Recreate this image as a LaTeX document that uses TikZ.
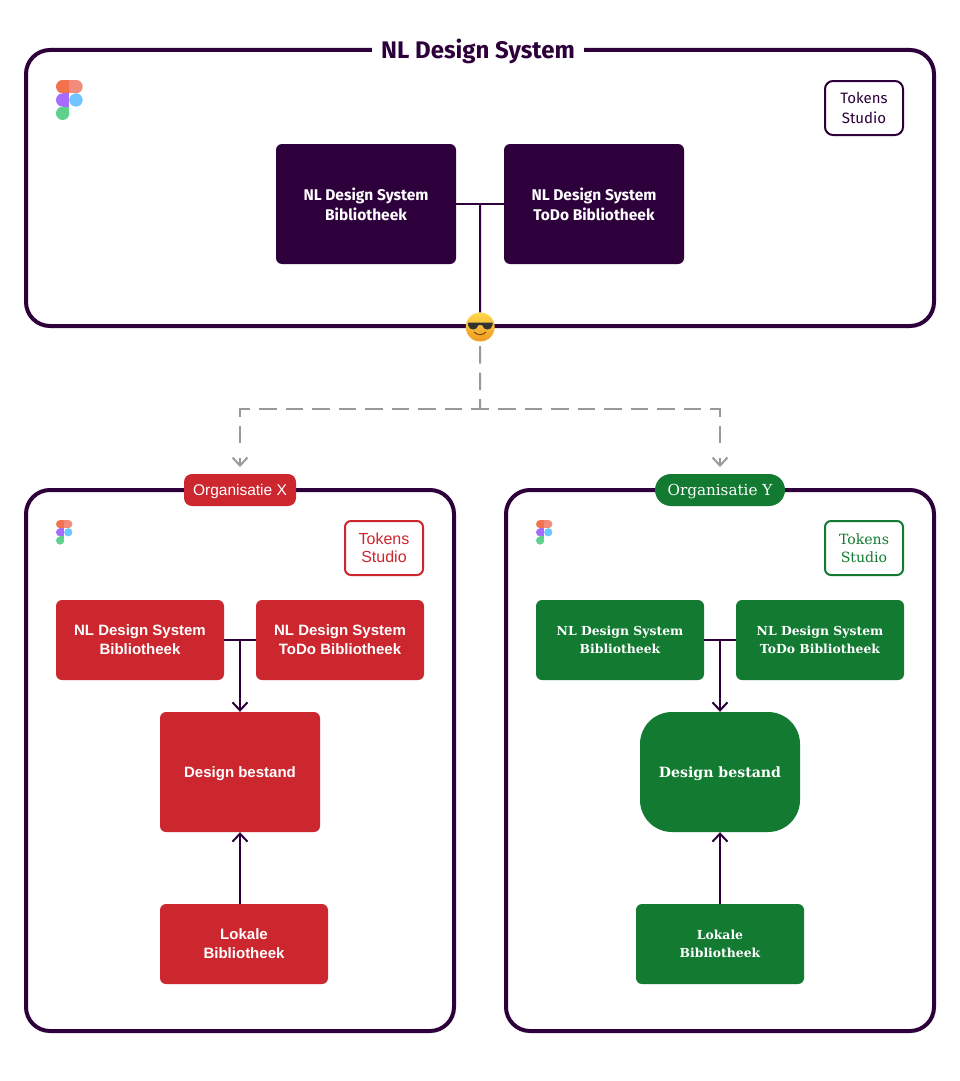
\documentclass[tikz,border=0pt]{standalone}
\usepackage{fontspec}
\usetikzlibrary{arrows.meta}

\newfontfamily\firafont{Fira Sans}
\newfontfamily\redfont{Liberation Sans}
\newfontfamily\greenfont{DejaVu Serif}

\definecolor{nlpurple}{HTML}{2D003B}
\definecolor{orgred}{HTML}{CC262E}
\definecolor{orggreen}{HTML}{137A32}
\definecolor{dashgrey}{HTML}{999999}
\definecolor{figmaorange}{HTML}{F2724D}
\definecolor{figmasalmon}{HTML}{F28B7B}
\definecolor{figmapurple}{HTML}{A66BFF}
\definecolor{figmablue}{HTML}{6FC5FF}
\definecolor{figmagreen}{HTML}{5FD18F}
\definecolor{emojitop}{HTML}{FFD84D}
\definecolor{emojibottom}{HTML}{F09A20}

\tikzset{
    drop/.style={execute at begin node={\rule{0pt}{#1}}},
    framebox/.style={draw=nlpurple, line width=4pt, rounded corners=24pt, fill=white},
    libbox/.style={rectangle, align=center, text=white, rounded corners=#1, inner sep=0pt},
    nlbox/.style={libbox=6pt, fill=nlpurple, minimum width=180pt, minimum height=120pt, drop=13pt,
        font=\firafont\bfseries\fontsize{15.5}{20}\selectfont},
    redbox/.style={libbox=6pt, fill=orgred, drop=15pt, font=\redfont\bfseries\fontsize{15}{19}\selectfont},
    greenbox/.style={libbox=6pt, fill=orggreen, drop=12pt, font=\greenfont\bfseries\fontsize{12.4}{18}\selectfont},
    pluginbox/.style={draw=#1, text=#1, fill=white, line width=2pt, rectangle, rounded corners=6pt,
        minimum width=78pt, minimum height=54pt, inner sep=0pt, align=center},
    link/.style={draw=nlpurple, line width=2pt},
    linkarrow/.style={link, -{Straight Barb[length=8pt,width=15pt,line width=2pt]}},
    sharelink/.style={draw=dashgrey, line width=2pt, dash pattern=on 17.5pt off 9pt, dash phase=#1},
    sharearrow/.style={draw=dashgrey, line width=2pt, -{Straight Barb[length=8pt,width=15pt,line width=2pt]}},
    figma/.pic={
        \fill[figmaorange] (0.5,0.5) circle (0.5);
        \fill[figmaorange] (0.5,0) rectangle (1,1);
        \fill[figmasalmon] (1.5,0.5) circle (0.5);
        \fill[figmasalmon] (1,0) rectangle (1.5,1);
        \fill[figmapurple] (0.5,1.5) circle (0.5);
        \fill[figmapurple] (0.5,1) rectangle (1,2);
        \fill[figmablue] (1.5,1.5) circle (0.5);
        \fill[figmagreen] (0.5,2.5) circle (0.5);
        \fill[figmagreen] (0.5,2) rectangle (1,2.5);
    }
}

\begin{document}
\begin{tikzpicture}[x=1pt, y=-1pt]
    \useasboundingbox (0,0) rectangle (960,1081);

    % outer frames
    \draw[framebox] (26,50) rectangle (934,326);
    \draw[framebox] (26,490) rectangle (454,1031);
    \draw[framebox] (506,490) rectangle (934,1031);

    % NL Design System
    \node[fill=white, text=nlpurple, inner xsep=9pt, inner ysep=1pt, font=\firafont\bfseries\fontsize{24}{28}\selectfont]
        (title) at (478,51) {NL Design System};
    \pic[scale=13.33] at (56,80) {figma};
    \node[pluginbox=nlpurple, rounded corners=8pt, drop=17pt, font=\firafont\fontsize{15}{20}\selectfont]
        (tokens) at (864,108) {Tokens\\Studio};
    \node[nlbox] (nllib) at (366,204) {NL Design System\\Bibliotheek};
    \node[nlbox] (nltodo) at (594,204) {NL Design System\\ToDo Bibliotheek};
    \coordinate (nljoin) at (480,204);
    \draw[link] (nllib) -- (nltodo);

    % emoji
    \node[circle, minimum size=29pt, inner sep=0pt, top color=emojitop, bottom color=emojibottom]
        (emoji) at (480.2,327) {};
    \draw[link] (nljoin) -- (emoji);
    \fill[black!80] (468,322.5) -- (492.5,322.5) -- (492.5,325) .. controls (491.5,331) and (483.5,331) .. (482,325)
        -- (478.5,325) .. controls (477,331) and (469,331) .. (468,325) -- cycle;
    \draw[orange!50!black, line width=1pt] (474,332) .. controls (477,335.5) and (483,335.5) .. (486,332);

    % sharing
    \coordinate (sharejoin) at (480,409);
    \coordinate (sharex) at (240,409);
    \coordinate (sharey) at (720,409);
    \coordinate (xend) at (240,446);
    \coordinate (yend) at (720,446);
    \coordinate (xstem) at (240,458);
    \coordinate (ystem) at (720,458);
    \coordinate (xtip) at (240,467);
    \coordinate (ytip) at (720,467);
    \draw[sharelink=22pt] (emoji) -- (sharejoin);
    \draw[sharelink=8.5pt] (sharejoin) -- (sharex) -- (xend);
    \draw[sharelink=8.5pt] (sharejoin) -- (sharey) -- (yend);
    \draw[sharearrow] (xstem) -- (xtip);
    \draw[sharearrow] (ystem) -- (ytip);

    % Organisatie X
    \node[fill=orgred, text=white, rounded corners=8pt, minimum width=112pt, minimum height=32pt, inner sep=0pt, drop=15pt,
        font=\redfont\fontsize{15.5}{19}\selectfont] (orgx) at (240,490) {Organisatie X};
    \pic[scale=8.2] at (56,520) {figma};
    \node[pluginbox=orgred, align=center, font=\redfont\fontsize{16}{18}\selectfont, drop=13pt] (tokensx) at (384,548) {Tokens\\Studio};
    \node[redbox, minimum width=168pt, minimum height=80pt] (libx) at (140,640) {NL Design System\\Bibliotheek};
    \node[redbox, minimum width=168pt, minimum height=80pt] (todox) at (340,640) {NL Design System\\ToDo Bibliotheek};
    \node[redbox, minimum width=160pt, minimum height=120pt] (designx) at (240,772) {Design bestand};
    \node[redbox, minimum width=168pt, minimum height=80pt] (lokalex) at (244,944) {Lokale\\Bibliotheek};
    \coordinate (joinx) at (240,640);
    \draw[link] (libx) -- (todox);
    \draw[linkarrow] (joinx) -- (designx.north);
    \draw[linkarrow] (lokalex.north -| designx.south) -- (designx.south);

    % Organisatie Y
    \node[fill=orggreen, text=white, rounded corners=16pt, minimum width=130pt, minimum height=32pt, inner sep=0pt, drop=15pt,
        font=\greenfont\fontsize{15.2}{18}\selectfont] (orgy) at (720,490) {Organisatie Y};
    \pic[scale=8.2] at (536,520) {figma};
    \node[pluginbox=orggreen, font=\greenfont\fontsize{14.1}{18}\selectfont] (tokensy) at (864,548) {Tokens\\Studio};
    \node[greenbox, minimum width=168pt, minimum height=80pt] (liby) at (620,640) {NL Design System\\Bibliotheek};
    \node[greenbox, minimum width=168pt, minimum height=80pt] (todoy) at (820,640) {NL Design System\\ToDo Bibliotheek};
    \node[greenbox, rounded corners=32pt, minimum width=160pt, minimum height=120pt, drop=15pt,
        font=\greenfont\bfseries\fontsize{14.1}{19}\selectfont] (designy) at (720,772) {Design bestand};
    \node[greenbox, minimum width=168pt, minimum height=80pt] (lokaley) at (720,944) {Lokale\\Bibliotheek};
    \coordinate (joiny) at (720,640);
    \draw[link] (liby) -- (todoy);
    \draw[linkarrow] (joiny) -- (designy.north);
    \draw[linkarrow] (lokaley) -- (designy.south);
\end{tikzpicture}
\end{document}
